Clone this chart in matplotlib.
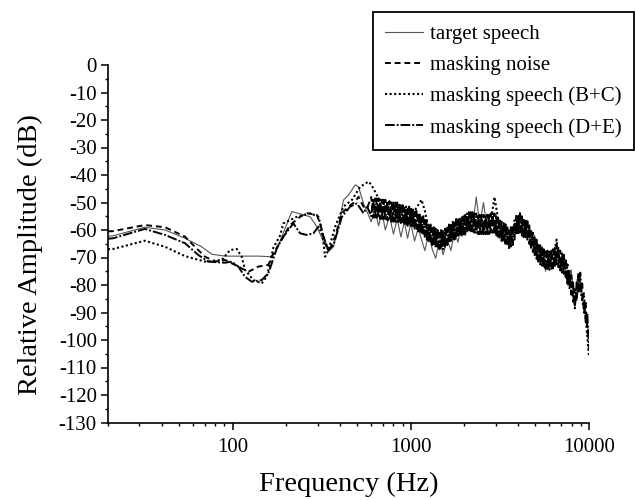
import matplotlib
matplotlib.use("Agg")
import matplotlib.pyplot as plt
from matplotlib.ticker import FixedLocator, FixedFormatter, MultipleLocator

plt.rcParams['font.family'] = ['Liberation Serif', 'DejaVu Serif']
plt.rcParams['axes.unicode_minus'] = False

# --- data (Hz, dB) ---

# low-frequency part of each spectrum
target_low_f = [20, 21.4, 32.2, 41.8, 54.1, 67.1, 76.4, 90.8, 107.8, 139.6, 162.4, 173.3, 185,
                193, 215.1, 249.9, 272.5, 297.2, 323.6, 345.2, 368.4, 393, 419.3, 447.3, 487.8,
                509.1, 543.1]
target_low_db = [-62.3, -62.1, -59, -60, -63, -66.1, -68.8, -69.5, -69.5, -69.5, -69.7, -68.5, -64,
                 -61, -53.3, -54.5, -55.2, -58.8, -64.2, -67.9, -66.1, -58.8, -49.1, -47.3, -43.6,
                 -44.3, -50.3]

noise_low_f = [20, 21.4, 32.2, 41.8, 54.1, 61.5, 70.1, 79.7, 90.8, 107.8, 122.7, 139.6, 158.9,
               169.5, 180.8, 210.4, 239.4, 261.1, 297.2, 310.1, 330.8, 349.7, 376.5, 410.7, 447.3,
               487.8, 509.1, 543.1, 570]
noise_low_db = [-60.5, -60.4, -58.2, -59, -62.4, -66.1, -69.7, -71.5, -70.9, -73.3, -75.2, -73.3,
                -72.7, -68.5, -65.5, -58.2, -55.2, -53.9, -54.5, -57.6, -64.8, -67.3, -62.4, -53.9,
                -51.5, -49.7, -47.9, -51.5, -52]

bc_low_f = [20, 21.4, 32.2, 41.8, 54.1, 70.1, 87, 96.8, 105.6, 112.6, 117.5, 130.9, 145.9, 155.6,
            162.4, 169.5, 184.9, 192.9, 229.5, 272.5, 303.4, 317, 330.8, 345.2, 376.5, 419.3, 467.4,
            520.4, 579.4]
bc_low_db = [-67, -66.9, -63.9, -66.1, -69.5, -71.5, -70.9, -67.3, -66.9, -69.7, -74.5, -78.2,
             -79.4, -77, -72.1, -66.4, -62, -57.6, -55.2, -53.9, -55.2, -60, -69.7, -67.3, -58.8,
             -51.5, -49.1, -44.3, -42.4]

de_low_f = [20, 21.4, 32.2, 41.8, 54.1, 64.3, 73.1, 90.8, 99, 107.8, 117.5, 128.2, 145.9, 158.9,
            166.1, 177.1, 192.9, 219.6, 239.4, 261.1, 284.4, 303.4, 323.6, 345.2, 368.4, 410.7,
            457.2, 498.7, 543.1, 570]
de_low_db = [-63.2, -63, -59.6, -61.8, -64.8, -69.1, -71.5, -71.9, -71.5, -73.3, -77, -78.8,
             -78.2, -75.7, -72.1, -66.7, -62.4, -57.6, -61.2, -61.8, -61.2, -58.8, -62.4, -67.3,
             -65.5, -55.2, -51.5, -50.3, -53.9, -51.5]

# dense high-frequency part (600 Hz - 10 kHz)
hf_f = [600, 615, 630, 645, 660, 675, 690, 705, 720, 740, 760, 780, 800, 820, 840, 860, 880,
        900, 920, 940, 960, 980, 1000, 1025, 1050, 1075, 1100, 1125, 1150, 1175, 1200, 1230,
        1260, 1290, 1320, 1350, 1380, 1415, 1450, 1485, 1520, 1560, 1600, 1640, 1680, 1720,
        1760, 1800, 1840, 1885, 1930, 1975, 2020, 2070, 2120, 2170, 2220, 2275, 2330, 2385,
        2440, 2500, 2560, 2620, 2680, 2745, 2810, 2880, 2950, 3020, 3090, 3165, 3240, 3320,
        3400, 3480, 3560, 3645, 3730, 3820, 3910, 4005, 4100, 4200, 4300, 4405, 4510, 4620,
        4730, 4845, 4960, 5080, 5200, 5325, 5450, 5580, 5710, 5850, 5990, 6135, 6280, 6430,
        6580, 6740, 6900, 7065, 7230, 7405, 7580, 7765, 7950, 8140, 8330, 8530, 8730, 8940,
        9150, 9370, 9590, 9795, 10000]

# these two are read on every second frequency of hf_f
target_hf_db = [-57, -52.5, -58.5, -53.5, -60, -55, -61.5, -56, -62.5, -57, -63, -57.5, -64,
                -59.5, -63.5, -67.5, -61.5, -67, -70.3, -63.5, -69, -63.5, -67.5, -60.5, -64.5,
                -57.5, -62, -55, -59.5, -48, -58, -50, -59.5, -54, -61, -55.5, -63.5, -58, -66,
                -60, -58.5, -53.5, -62, -56.5, -66, -62, -71, -66, -75, -68, -74, -65.5, -75,
                -69.5, -80, -74.5, -88, -77.5, -85, -89, -99]

bc_hf_db = [-43.5, -46, -48.5, -50, -51.5, -54.5, -51, -56, -52.5, -57, -52.5, -56, -53, -51, -49,
            -53, -60, -64.5, -59.5, -66.5, -60, -65.5, -58, -63.5, -55.5, -61.5, -55, -60.5, -54,
            -60.5, -55, -61.5, -54.5, -57, -48, -56, -64, -58, -66.5, -59, -61.5, -54, -62.5,
            -56.5, -66.5, -62.5, -71.5, -66.5, -74, -67.5, -71, -63.5, -74.5, -70, -79.5, -76.5,
            -87, -76, -85.5, -92, -106]

# these two are read on every frequency of hf_f
noise_hf_db = [-48, -55.5, -48.5, -55.5, -48.5, -56, -49, -56, -49, -56.5, -49.5, -57, -50, -57,
               -50, -57.5, -50.5, -58, -51, -58.5, -51.5, -58.5, -51.5, -59, -52.5, -60, -53.5,
               -61, -54.5, -62, -55.5, -63.5, -57.5, -65, -58.5, -66, -59.5, -67, -60, -67, -60,
               -66.5, -58.5, -65, -57.5, -64, -56.5, -63, -55.5, -62.5, -55, -62, -54.5, -61,
               -53.5, -60.5, -53.5, -61, -54, -61.5, -54.5, -61.5, -54.5, -61.5, -54.5, -61.5,
               -54, -61, -54, -62, -55.5, -63.5, -57, -64.5, -58, -66, -59.5, -66, -58.5, -63.5,
               -54.5, -61.5, -54, -62, -55.5, -63, -56.5, -65, -59.5, -68, -62.5, -70.5, -64.5,
               -72.5, -66.5, -74, -67, -74.5, -67.5, -74.5, -67, -73.5, -65.5, -73.5, -67.5,
               -75.5, -69, -78, -72.5, -81.5, -76.5, -86, -81.5, -86, -75.5, -82.5, -78.5, -90,
               -86.5, -97.5, -97.5]

de_hf_db = [-55, -48.5, -55.5, -48.5, -55.5, -49, -56, -49, -56, -49.5, -56.5, -50, -57, -50, -57,
            -50.5, -57.5, -51, -58, -51.5, -58.5, -51.5, -58.5, -52, -59.5, -53, -60.5, -54, -61.5,
            -55, -62.5, -56.5, -64.5, -58, -65.5, -59, -66.5, -60, -67, -60, -67, -59.5, -65.5,
            -58, -64.5, -57, -63.5, -56, -62.5, -55.5, -62, -55, -61.5, -54, -60.5, -53.5, -60.5,
            -54, -61, -54.5, -61.5, -54.5, -61.5, -54.5, -61.5, -54.5, -61, -54, -61, -55, -62.5,
            -56.5, -64, -57.5, -65, -59, -66.5, -59, -65.5, -56.5, -61.5, -54.5, -61, -55, -62.5,
            -56, -63.5, -58, -66.5, -61, -69.5, -63.5, -71.5, -65.5, -73.5, -67, -74, -67.5,
            -74.5, -67.5, -74, -66.5, -72.5, -66.5, -74.5, -68.5, -76, -71, -79.5, -74.5, -83.5,
            -79, -88.5, -79, -82.5, -75.5, -85.5, -83, -93.5, -90.5, -104]

labels = ['target speech', 'masking noise', 'masking speech (B+C)', 'masking speech (D+E)']
x_ticks = [100, 1000, 10000]
x_tick_labels = ['100', '1000', '10000']

hf_f_half = hf_f[::2]

fig = plt.figure(figsize=(6.35, 5), dpi=100)
ax = fig.add_axes([0.170, 0.155, 0.7575, 0.715])

ax.plot(target_low_f + hf_f_half, target_low_db + target_hf_db, color='#555555', lw=0.8,
        linestyle='-', label=labels[0])
ax.plot(noise_low_f + hf_f, noise_low_db + noise_hf_db, color='black', lw=1.4,
        linestyle=(0, (3, 2)), label=labels[1])
ax.plot(bc_low_f + hf_f_half, bc_low_db + bc_hf_db, color='black', lw=1.5,
        linestyle=(0, (1, 1.2)), label=labels[2])
ax.plot(de_low_f + hf_f, de_low_db + de_hf_db, color='black', lw=1.4,
        linestyle=(0, (5, 1, 1, 1)), label=labels[3])

ax.set_xscale('log')
ax.set_xlim(20, 10000)
ax.set_ylim(-130, 0)

ax.xaxis.set_major_locator(FixedLocator(x_ticks))
ax.xaxis.set_major_formatter(FixedFormatter(x_tick_labels))
ax.xaxis.set_minor_locator(FixedLocator([20, 30, 40, 50, 60, 70, 80, 90,
                                         200, 300, 400, 500, 600, 700, 800, 900,
                                         2000, 3000, 4000, 5000, 6000, 7000, 8000, 9000]))
ax.xaxis.set_minor_formatter(FixedFormatter([]))
ax.yaxis.set_major_locator(MultipleLocator(10))
ax.yaxis.set_minor_locator(MultipleLocator(5))

for s in ['top', 'right']:
    ax.spines[s].set_visible(False)
for s in ['left', 'bottom']:
    ax.spines[s].set_linewidth(1.2)

ax.tick_params(which='major', direction='out', length=5, width=1.1, labelsize=15, pad=3)
ax.tick_params(which='minor', direction='out', length=2.5, width=1.0)
ax.tick_params(axis='x', which='major', pad=6)

ax.set_xlabel('Frequency (Hz)', fontsize=20.5, labelpad=11)
ax.set_ylabel('Relative Amplitude (dB)', fontsize=20.5, labelpad=6)
ax.yaxis.set_label_coords(-0.135, 0.47)

leg = fig.legend(loc='upper right', bbox_to_anchor=(0.9985, 0.976), borderaxespad=0,
                 fontsize=15, fancybox=False, framealpha=1, edgecolor='black',
                 handlelength=1.8, handletextpad=0.35, labelspacing=0.55, borderpad=0.6)
leg.get_frame().set_linewidth(1.3)

fig.savefig('out.png', dpi=100)
